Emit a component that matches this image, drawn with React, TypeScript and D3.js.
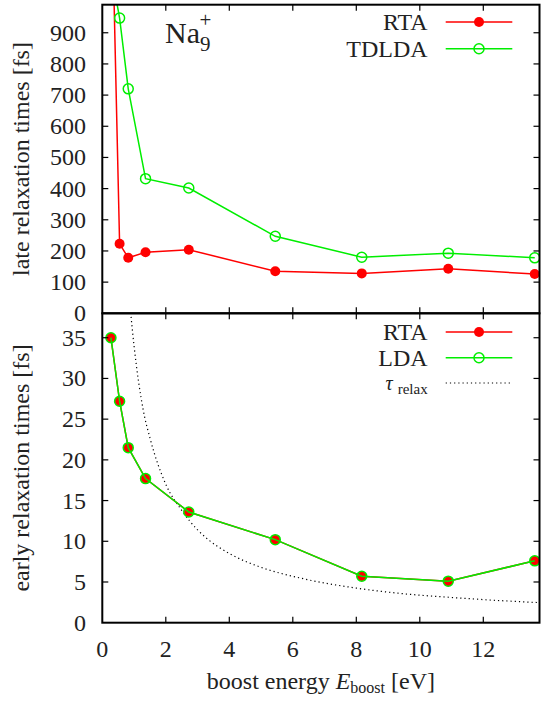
import React from "react";
import * as d3 from "d3";

const energies = [0.272, 0.545, 0.817, 1.362, 2.724, 5.448, 8.172, 10.896, 13.62];
const lateRTA = [1440, 223, 178, 196, 204, 135, 128, 143, 126];
const lateTDLDA = [1100, 947, 720, 432, 402, 247, 180, 193, 178];
const earlyRTA = [35.0, 27.2, 21.5, 17.7, 13.6, 10.2, 5.7, 5.1, 7.6];
const earlyLDA = [35.0, 27.2, 21.5, 17.7, 13.6, 10.2, 5.7, 5.1, 7.6];
const tauE = [0.88, 1.0, 1.29, 1.5, 2.0, 2.5, 3.0, 3.34, 4.0, 5.0, 6.22, 8.0, 9.37, 11.0, 12.5, 13.79];
const tauV = [38.6, 34.0, 26.1, 22.7, 17.0, 13.8, 11.4, 10.2, 8.5, 6.8, 5.5, 4.25, 3.6, 3.1, 2.72, 2.46];
const xTicks = [0, 2, 4, 6, 8, 10, 12];
const lateTicks = [0, 100, 200, 300, 400, 500, 600, 700, 800, 900];
const earlyTicks = [0, 5, 10, 15, 20, 25, 30, 35];

const W = 541, H = 701;
const L = 102.3, R = 539.5, T = 4.7, M = 313.3, B = 622.7;
const RED = "#ff0000", GREEN = "#00ee00";
const FONT = "'Liberation Serif', 'DejaVu Serif', 'Noto Serif', Tinos, FreeSerif, 'Nimbus Roman', 'Times New Roman', Times, Georgia, serif";
const TXT = "#222";

export default function App() {
  const x = d3.scaleLinear().domain([0, 13.77]).range([L, R]);
  const yTop = d3.scaleLinear().domain([0, 990]).range([M, T]);
  const yBot = d3.scaleLinear().domain([0, 38]).range([B, M]);

  const mk = (ys: number[], ysc: any) =>
    d3.line<number>().x((_, i) => x(energies[i])).y((v) => ysc(v))(ys) || "";
  const tauLine =
    d3.line<number>().x((_, i) => x(tauE[i])).y((v) => yBot(v)).curve(d3.curveMonotoneX)(tauV) || "";

  const tick = 6;
  const fs = 24;

  const filled = (cx: number, cy: number, k: string) => (
    <circle key={k} cx={cx} cy={cy} r={5} fill={RED} />
  );
  const open = (cx: number, cy: number, k: string) => (
    <circle key={k} cx={cx} cy={cy} r={5} fill="none" stroke={GREEN} strokeWidth={1.5} />
  );

  const legX1 = 445.7, legX2 = 512.3, legM = 479, legTx = 427.7;

  return (
    <svg width={W} height={H} style={{ position: "absolute", left: 0, top: 0, background: "#fff", fontFamily: FONT }}>
      <defs>
        <clipPath id="cTop"><rect x={L} y={T} width={R - L} height={M - T} /></clipPath>
        <clipPath id="cBot"><rect x={L} y={M} width={R - L} height={B - M} /></clipPath>
      </defs>

      {/* top panel data */}
      <g clipPath="url(#cTop)">
        <path d={mk(lateRTA, yTop)} fill="none" stroke={RED} strokeWidth={1.5} />
        {energies.map((e, i) => filled(x(e), yTop(lateRTA[i]), "lr" + i))}
        <path d={mk(lateTDLDA, yTop)} fill="none" stroke={GREEN} strokeWidth={1.5} />
        {energies.map((e, i) => open(x(e), yTop(lateTDLDA[i]), "lt" + i))}
      </g>

      {/* bottom panel data */}
      <g clipPath="url(#cBot)">
        <path d={tauLine} fill="none" stroke="#000" strokeWidth={1.2} strokeDasharray="1.2 3" />
        <path d={mk(earlyRTA, yBot)} fill="none" stroke={RED} strokeWidth={1.5} />
        {energies.map((e, i) => filled(x(e), yBot(earlyRTA[i]), "er" + i))}
        <path d={mk(earlyLDA, yBot)} fill="none" stroke={GREEN} strokeWidth={1.5} />
        {energies.map((e, i) => open(x(e), yBot(earlyLDA[i]), "el" + i))}
      </g>

      {/* ticks */}
      <g stroke="#000" strokeWidth={1.2}>
        {xTicks.filter((t) => t > 0).map((t) => (
          <g key={"xt" + t}>
            <line x1={x(t)} x2={x(t)} y1={T} y2={T + tick} />
            <line x1={x(t)} x2={x(t)} y1={M} y2={M - tick} />
            <line x1={x(t)} x2={x(t)} y1={M} y2={M + tick} />
            <line x1={x(t)} x2={x(t)} y1={B} y2={B - tick} />
          </g>
        ))}
        {lateTicks.filter((t) => t > 0).map((t) => (
          <g key={"yt" + t}>
            <line x1={L} x2={L + tick} y1={yTop(t)} y2={yTop(t)} />
            <line x1={R} x2={R - tick} y1={yTop(t)} y2={yTop(t)} />
          </g>
        ))}
        {earlyTicks.filter((t) => t > 0).map((t) => (
          <g key={"yb" + t}>
            <line x1={L} x2={L + tick} y1={yBot(t)} y2={yBot(t)} />
            <line x1={R} x2={R - tick} y1={yBot(t)} y2={yBot(t)} />
          </g>
        ))}
      </g>

      {/* frames */}
      <g fill="none" stroke="#000" strokeWidth={2}>
        <rect x={L} y={T} width={R - L} height={M - T} />
        <rect x={L} y={M} width={R - L} height={B - M} />
      </g>

      {/* tick labels */}
      <g fontSize={fs} fill={TXT} fontFamily={FONT}>
        {lateTicks.map((t) => (
          <text key={"lt" + t} x={86} y={yTop(t) + 8}  textAnchor="end">{t}</text>
        ))}
        {earlyTicks.map((t) => (
          <text key={"et" + t} x={86} y={yBot(t) + 8} textAnchor="end">{t}</text>
        ))}
        {xTicks.map((t) => (
          <text key={"xl" + t} x={x(t)} y={657} textAnchor="middle">{t}</text>
        ))}
      </g>

      {/* axis labels */}
      <g fontSize={fs} fill={TXT} fontFamily={FONT}>
        <text transform={`translate(29,${(T + M) / 2}) rotate(-90)`} textAnchor="middle">late relaxation times [fs]</text>
        <text transform={`translate(29,${(M + B) / 2}) rotate(-90)`} textAnchor="middle">early relaxation times [fs]</text>
        <text x={(L + R) / 2} y={689} textAnchor="middle">
          boost energy <tspan fontStyle="italic">E</tspan>
          <tspan fontSize={16} dy={4}>boost</tspan>
          <tspan dy={-4}> [eV]</tspan>
        </text>
      </g>

      {/* Na9+ */}
      <text x={165} y={43} fontSize={30} fill={TXT} fontFamily={FONT}>
        Na<tspan fontSize={21} dy={8}>9</tspan>
        <tspan fontSize={21} dx={-11} dy={-24}>+</tspan>
      </text>

      {/* top legend */}
      <g fontSize={fs} fill={TXT} fontFamily={FONT}>
        <text x={legTx} y={30} textAnchor="end">RTA</text>
        <text x={legTx} y={56.7} textAnchor="end">TDLDA</text>
      </g>
      <line x1={legX1} x2={legX2} y1={22} y2={22} stroke={RED} strokeWidth={1.5} />
      {filled(legM, 22, "lg1")}
      <line x1={legX1} x2={legX2} y1={48.7} y2={48.7} stroke={GREEN} strokeWidth={1.5} />
      {open(legM, 48.7, "lg2")}

      {/* bottom legend */}
      <g fontSize={fs} fill={TXT} fontFamily={FONT}>
        <text x={legTx} y={340} textAnchor="end">RTA</text>
        <text x={legTx} y={365.7} textAnchor="end">LDA</text>
        <text x={legTx - 35} y={390} fontSize={20} fontStyle="italic" textAnchor="end">τ</text>
        <text x={legTx} y={394} fontSize={15} textAnchor="end">relax</text>
      </g>
      <line x1={legX1} x2={legX2} y1={332} y2={332} stroke={RED} strokeWidth={1.5} />
      {filled(legM, 332, "lg3")}
      <line x1={legX1} x2={legX2} y1={357.7} y2={357.7} stroke={GREEN} strokeWidth={1.5} />
      {open(legM, 357.7, "lg4")}
      <line x1={legX1} x2={legX2} y1={383} y2={383} stroke="#000" strokeWidth={1.2} strokeDasharray="1.2 3" />
    </svg>
  );
}
